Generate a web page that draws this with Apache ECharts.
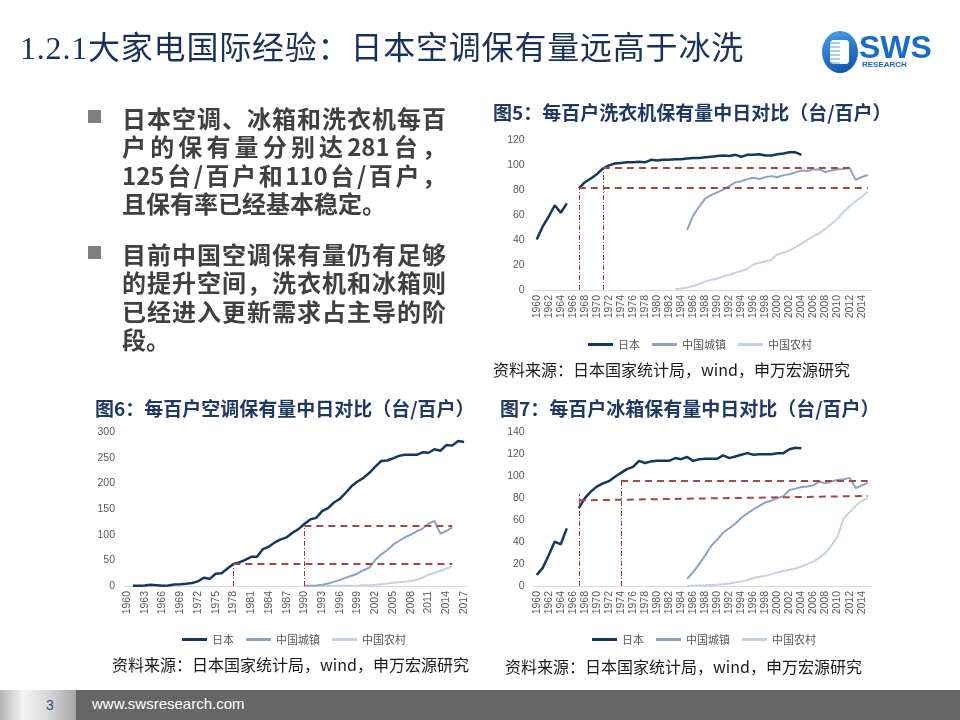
<!DOCTYPE html>
<html>
<head>
<meta charset="utf-8">
<script src="https://cdn.jsdelivr.net/npm/echarts@6/dist/echarts.min.js"></script>
<style>
  html, body { margin:0; padding:0; background:#fff; }
  #page { position:relative; width:960px; height:720px; overflow:hidden; background:#fff; }
  #chart { position:absolute; left:0; top:0; width:960px; height:720px; }
  .abs { position:absolute; }
  #title { left:20px; top:32px; font-family:'Liberation Serif','Noto Sans CJK SC',serif; font-size:32px; line-height:32px; letter-spacing:0.8px; color:#1a3259; white-space:nowrap; }
  .para { position:absolute; left:122px; width:324px; font-family:'Noto Sans CJK SC',sans-serif; font-weight:bold; font-size:24px; line-height:28.3px; color:#404040; }
  .para div { white-space:nowrap; }
  .para .j { text-align:justify; text-align-last:justify; white-space:normal; }
  .sq { position:absolute; left:88px; width:13px; height:13px; background:#808080; }
</style>
</head>
<body>
<div id="page">
  <div id="chart"></div>
  <div id="title" class="abs">1.2.1大家电国际经验：日本空调保有量远高于冰洗</div>

  <!-- logo -->
  <div class="abs" style="left:822px;top:31px;width:36px;height:42px;border-radius:50%;background:linear-gradient(160deg,#4aa0ea,#0d4fa6);"></div>
  <div class="abs" style="left:830px;top:40px;width:19px;height:24px;border-radius:4px;background:repeating-linear-gradient(to bottom,#ffffff 0px,#ffffff 2px,#a9d0f2 2px,#a9d0f2 4px);"></div>
  <div class="abs" style="left:840px;top:40px;width:9px;height:24px;border-radius:0 4px 4px 0;background:#ffffff;"></div>
  <div class="abs" style="left:859px;top:31px;font-family:'Liberation Sans',sans-serif;font-weight:bold;font-size:32px;line-height:32px;color:#1a6cc6;">SWS</div>
  <div class="abs" style="left:862px;top:61px;font-family:'Liberation Sans',sans-serif;font-weight:bold;font-size:8px;line-height:8px;color:#1a6cc6;">RESEARCH</div>

  <!-- bullets -->
  <div class="sq" style="top:110px;"></div>
  <div class="para" style="top:104px;">
    <div class="j">日本空调、冰箱和洗衣机每百</div>
    <div class="j">户的保有量分别达281台，</div>
    <div class="j">125台/百户和110台/百户，</div>
    <div>且保有率已经基本稳定。</div>
  </div>
  <div class="sq" style="top:246px;"></div>
  <div class="para" style="top:240px;">
    <div class="j">目前中国空调保有量仍有足够</div>
    <div class="j">的提升空间，洗衣机和冰箱则</div>
    <div class="j">已经进入更新需求占主导的阶</div>
    <div>段。</div>
  </div>

  <!-- footer -->
  <div class="abs" style="left:0;top:690px;width:960px;height:30px;background:#666666;"></div>
  <div class="abs" style="left:0;top:690px;width:76px;height:30px;background:linear-gradient(to right,#b4b4b4 0%,#f4f4f4 30%,#dcdcdc 60%,#a6a6a6 100%);"></div>
  <div class="abs" style="left:46px;top:698px;font-family:'Liberation Sans',sans-serif;font-size:14px;line-height:14px;color:#2f4a7a;">3</div>
  <div class="abs" style="left:92px;top:696px;font-family:'Liberation Sans',sans-serif;font-size:15px;line-height:15px;color:#ffffff;">www.swsresearch.com</div>
</div>

<script>
// ---------- categories ----------
const yearsWash = [];   // 1960-2015 (图5, 图7)
for (let y = 1960; y <= 2015; y++) yearsWash.push(String(y));
const yearsAC = [];     // 1960-2017 (图6)
for (let y = 1960; y <= 2017; y++) yearsAC.push(String(y));

const seriesNames = ['日本', '中国城镇', '中国农村'];

// ---------- 图5 洗衣机 ----------
const washJapanStart = 1960;
const washJapan = [40.5, 51, 59, 68, 62, 69.5, null, 81.5, 86.5, 89.5,
  93, 97.5, 100, 101.5, 102, 102.5, 102.5, 103, 102.5, 104.5,
  104, 104.5, 104.5, 105, 105, 105.5, 106, 106, 106.5, 107,
  107.5, 108, 107.5, 108.5, 107, 108.5, 108.5, 109, 108, 108,
  109, 109.5, 110.5, 110.5, 108.5];
const washUrbanStart = 1985;
const washUrban = [48.3, 59.7, 67, 73.4, 76.2, 78.4, 80.6, 83.4, 86.4, 87.3,
  89, 90.1, 89.1, 90.6, 91.4, 90.5, 92.2, 92.9, 94.4, 95.9,
  95.5, 96.8, 96.8, 94.7, 96, 96.9, 97.1, 98, 88.4, 90.7, 92.3];
const washRuralStart = 1983;
const washRural = [0.5, 1.2, 1.9, 3.2, 4.8, 6.8, 8.2, 9.1, 11, 12.2,
  13.8, 15.3, 16.9, 20.5, 21.9, 22.8, 24.3, 28.6, 29.9, 31.8,
  34.3, 37.3, 40.2, 43, 45.9, 49.1, 53.1, 57.3, 62.6, 67.2,
  71.2, 74.8, 78.8];
// reference lines: [fromYear, fromValue, toYear, toValue]
const washRefH = [[1971, 98, 2012, 98], [1967, 82, 2015, 82]];
// vertical: [year, topValue]
const washRefV = [[1967, 81.5], [1971, 98]];

// ---------- 图6 空调 ----------
const acJapanStart = 1961;
const acJapan = [0.5, 0.6, 1.2, 2.4, 1.5, 0.5, 1, 3, 3.5,
  4.5, 6, 9, 16, 14, 24, 25, 34, 43, 46,
  51, 57, 57, 72, 77, 85, 91, 95, 104, 111,
  121, 130, 133, 146, 152, 163, 170, 182, 195, 204,
  211, 221, 233, 244, 245, 249, 254, 256, 256, 256,
  261, 260, 267, 264, 275, 274, 283, 281];
const acUrbanStart = 1990;
const acUrban = [0.3, 0.7, 1.2, 2.3, 5, 8.1, 11.6, 16.3, 20, 24.5,
  30.8, 35.8, 51.1, 61.8, 69.8, 80.7, 87.8, 95.1, 100.3, 106.8,
  112.1, 122, 126.8, 102.2, 107.4, 114.6];
const acRuralStart = 1993;
const acRural = [0.1, 0.1, 0.2, 0.3, 0.4, 0.6, 0.7, 1.3, 1.7, 2.3,
  3.5, 4.7, 6.4, 7.3, 8.5, 9.8, 12.2, 16, 22.6, 25.4,
  29.8, 34.2, 38.8];
const acRefH = [[1978, 44, 2015, 44], [1990, 118, 2015, 118]];
const acRefV = [[1978, 44], [1990, 118]];

// ---------- 图7 冰箱 ----------
const fridgeJapanStart = 1960;
const fridgeJapan = [10, 16.5, 28, 40.5, 38, 52.5, null, 71, 80, 86,
  90.5, 93.5, 95.5, 99.5, 103, 106.5, 108.5, 114, 112, 113.5,
  114, 114, 114, 116.5, 115.5, 117.5, 114, 115.5, 116, 116,
  116, 119, 116.5, 118, 119.5, 121, 119.5, 120, 120, 120,
  121, 121, 124.5, 126, 125.5];
const fridgeUrbanStart = 1985;
const fridgeUrban = [6.6, 12.7, 19.9, 28, 36.5, 42.3, 48.7, 52.6, 56.7, 62.1,
  66.2, 69.7, 73, 76.1, 77.7, 80.1, 81.9, 87.4, 88.7, 90.2,
  90.7, 91.8, 95, 93.6, 95.4, 96.6, 97.2, 98.5, 89.2, 91.7, 94];
const fridgeRuralStart = 1985;
const fridgeRural = [0.1, 0.3, 0.5, 0.6, 0.9, 1.2, 1.6, 2.2, 3.1, 4,
  5.2, 7.3, 8.5, 9.3, 10.6, 12.3, 13.6, 14.8, 15.9, 17.8,
  20.1, 22.5, 26.1, 30.2, 37.1, 45.2, 61.5, 67.3, 72.9, 77.6, 80];
const fridgeRefH = [[1974, 96, 2015, 96], [1967, 78, 2015, 82]];
const fridgeRefV = [[1967, 84], [1974, 96]];

// ---------- texts ----------
const titles = [
  '图5：每百户洗衣机保有量中日对比（台/百户）',
  '图6：每百户空调保有量中日对比（台/百户）',
  '图7：每百户冰箱保有量中日对比（台/百户）'
];
const sourceText = '资料来源：日本国家统计局，wind，申万宏源研究';

// ---------- build ----------
const C_JP = '#17375E', C_URB = '#8EA3BF', C_RUR = '#C7D2E1';
const C_DASH = '#A34848', C_VDASH = '#9A3A3A';

function align(cats, start, vals) {
  return cats.map(c => {
    const i = Number(c) - start;
    return (i >= 0 && i < vals.length) ? vals[i] : null;
  });
}

function refLines(hList, vList) {
  const out = [];
  hList.forEach(h => out.push([
    { coord: [String(h[0]), h[1]], lineStyle: { color: C_DASH, width: 2, type: [7, 5] } },
    { coord: [String(h[2]), h[3]] }
  ]));
  vList.forEach(v => out.push([
    { coord: [String(v[0]), 0], lineStyle: { color: C_VDASH, width: 1, type: [5, 2, 1, 2] } },
    { coord: [String(v[0]), v[1]] }
  ]));
  return out;
}

function line(name, data, idx, color, width, z, mark) {
  const s = {
    type: 'line', name, data, xAxisIndex: idx, yAxisIndex: idx,
    symbol: 'none', showSymbol: false, connectNulls: false, z,
    lineStyle: { color, width }, itemStyle: { color },
    emphasis: { disabled: true }, silent: true, animation: false
  };
  if (mark) {
    s.markLine = { silent: true, symbol: ['none', 'none'], animation: false,
      label: { show: false }, emphasis: { disabled: true }, data: mark };
  }
  return s;
}

function xAxis(cats, idx, interval) {
  return {
    type: 'category', gridIndex: idx, data: cats, boundaryGap: true,
    axisLine: { show: true, lineStyle: { color: '#D9D9D9', width: 1 } },
    axisTick: { show: false },
    splitLine: { show: false },
    axisLabel: { rotate: 90, interval, fontSize: 10.5, color: '#595959', margin: 5,
      fontFamily: 'Liberation Sans' }
  };
}
function yAxis(idx, max, interval) {
  return {
    type: 'value', gridIndex: idx, min: 0, max, interval,
    axisLine: { show: false }, axisTick: { show: false }, splitLine: { show: false },
    axisLabel: { fontSize: 10.5, color: '#595959', margin: 9, fontFamily: 'Liberation Sans' }
  };
}
function legend(left, top) {
  return {
    left, top, orient: 'horizontal', icon: 'rect', itemWidth: 25, itemHeight: 3, itemGap: 12,
    data: seriesNames, selectedMode: false,
    textStyle: { fontSize: 11, color: '#595959', fontFamily: 'Noto Sans CJK SC' }
  };
}
function txt(text, x, y, font, fill) {
  return { type: 'text', silent: true, style: { text, x, y, font, fill, textAlign: 'left', textVerticalAlign: 'middle' } };
}

const chart = echarts.init(document.getElementById('chart'), null, { renderer: 'canvas' });
const titleFont = "bold 19px 'Noto Sans CJK SC'";
const srcFont = "16px 'Noto Sans CJK SC'";

chart.setOption({
  animation: false,
  backgroundColor: 'transparent',
  tooltip: { show: false },
  grid: [
    { left: 533.7, top: 140.5, width: 337, height: 149.5 },
    { left: 124, top: 432.3, width: 343, height: 153.7 },
    { left: 533.7, top: 432.3, width: 337, height: 153.7 }
  ],
  xAxis: [xAxis(yearsWash, 0, 1), xAxis(yearsAC, 1, 2), xAxis(yearsWash, 2, 1)],
  yAxis: [yAxis(0, 120, 20), yAxis(1, 300, 50), yAxis(2, 140, 20)],
  legend: [legend(583, 334), legend(177, 629), legend(587, 629)],
  series: [
    line('中国农村', align(yearsWash, washRuralStart, washRural), 0, C_RUR, 2, 2),
    line('中国城镇', align(yearsWash, washUrbanStart, washUrban), 0, C_URB, 2, 3),
    line('日本', align(yearsWash, washJapanStart, washJapan), 0, C_JP, 2.5, 4, refLines(washRefH, washRefV)),

    line('中国农村', align(yearsAC, acRuralStart, acRural), 1, C_RUR, 2, 2),
    line('中国城镇', align(yearsAC, acUrbanStart, acUrban), 1, C_URB, 2, 3),
    line('日本', align(yearsAC, acJapanStart, acJapan), 1, C_JP, 2.5, 4, refLines(acRefH, acRefV)),

    line('中国农村', align(yearsWash, fridgeRuralStart, fridgeRural), 2, C_RUR, 2, 2),
    line('中国城镇', align(yearsWash, fridgeUrbanStart, fridgeUrban), 2, C_URB, 2, 3),
    line('日本', align(yearsWash, fridgeJapanStart, fridgeJapan), 2, C_JP, 2.5, 4, refLines(fridgeRefH, fridgeRefV))
  ],
  graphic: [
    txt(titles[0], 493, 113, titleFont, '#1F3864'),
    txt(titles[1], 95, 408.5, titleFont, '#1F3864'),
    txt(titles[2], 500, 409, titleFont, '#1F3864'),
    txt(sourceText, 493, 370, srcFont, '#1A1A1A'),
    txt(sourceText, 112, 665, srcFont, '#1A1A1A'),
    txt(sourceText, 505, 667, srcFont, '#1A1A1A')
  ]
});
</script>
</body>
</html>
